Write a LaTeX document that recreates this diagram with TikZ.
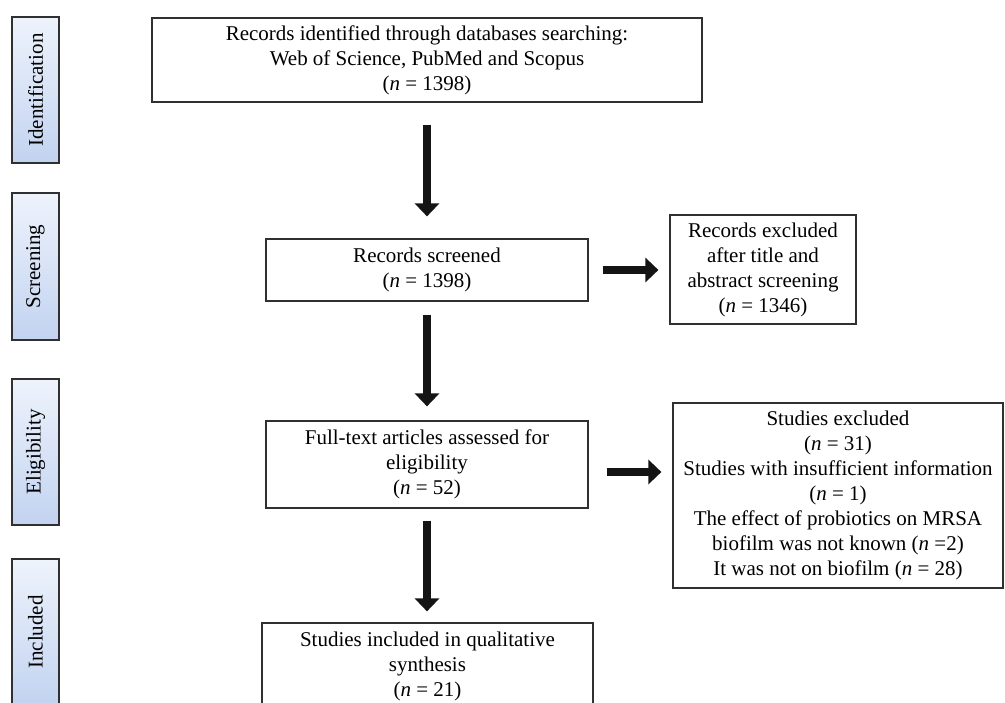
\documentclass[tikz,border=0pt]{standalone}
\usepackage{fontspec}
\setmainfont{Liberation Serif}
\usetikzlibrary{arrows.meta}
\definecolor{phtop}{HTML}{EEF3FC}
\definecolor{phbot}{HTML}{C2D3F0}
\definecolor{edgec}{HTML}{303030}
\definecolor{arrc}{HTML}{141414}
\begin{document}
\begin{tikzpicture}[x=1pt,y=-1pt,
  every node/.style={font=\fontsize{21}{25}\selectfont, text=black},
  flowbox/.style={draw=edgec, line width=1.2pt, fill=white, align=center, inner sep=0pt},
  phase/.style={draw=edgec, line width=1.2pt, top color=phtop, bottom color=phbot,
                minimum width=47pt, minimum height=146pt, inner sep=0pt},
  bigarrow/.style={draw=arrc, line width=8pt, -{Triangle[width=24pt,length=13pt]}},
]
\useasboundingbox (0,0) rectangle (1005,703);
\clip (0,0) rectangle (1005,703);

% phase boxes
\node[phase] (p1) at (35.5,90) {\rotatebox{90}{Identification}};
\node[phase, minimum height=147pt] (p2) at (35.5,266.5) {\rotatebox{90}{Screening}};
\node[phase] (p3) at (35.5,452) {\rotatebox{90}{Eligibility}};
\node[phase] (p4) at (35.5,632) {\rotatebox{90}{Included}};

% flow boxes
\node[flowbox, minimum width=550pt, minimum height=84pt] (top) at (427,60)
  {Records identified through databases searching:\\Web of Science, PubMed and Scopus\\(\textit{n}~=~1398)};
\node[flowbox, minimum width=322pt, minimum height=62pt] (scr) at (427,270)
  {Records screened\\(\textit{n}~=~1398)};
\node[flowbox, minimum width=186pt, minimum height=109pt] (ex1) at (763,269.5)
  {Records excluded\\after title and\\abstract screening\\(\textit{n}~=~1346)};
\node[flowbox, minimum width=322pt, minimum height=87pt] (ft) at (427,464.5)
  {Full-text articles assessed for\\eligibility\\(\textit{n}~=~52)};
\node[flowbox, minimum width=330pt, minimum height=185pt] (se) at (838,495.5)
  {Studies excluded\\(\textit{n}~=~31)\\Studies with insufficient information\\(\textit{n}~=~1)\\The effect of probiotics on MRSA\\biofilm was not known (\textit{n}~=2)\\It was not on biofilm (\textit{n}~=~28)};
\node[flowbox, minimum width=331pt, minimum height=86pt] (inc) at (427.5,666)
  {Studies included in qualitative\\synthesis\\(\textit{n}~=~21)};

% arrows
\draw[bigarrow, shorten <=22pt, shorten >=22pt] (top.south) -- (scr.north);
\draw[bigarrow, shorten <=13pt, shorten >=14pt] (scr.south) -- (ft.north);
\draw[bigarrow, shorten <=12pt, shorten >=11pt] (ft.south) -- (ft.south |- inc.north);
\draw[bigarrow, shorten <=14pt, shorten >=11pt] (scr.east) -- (scr.east -| ex1.west);
\draw[bigarrow, shorten <=18pt, shorten >=11pt] ([yshift=-7.5pt]ft.east) -- ([yshift=-7.5pt]ft.east -| se.west);
\end{tikzpicture}
\end{document}
